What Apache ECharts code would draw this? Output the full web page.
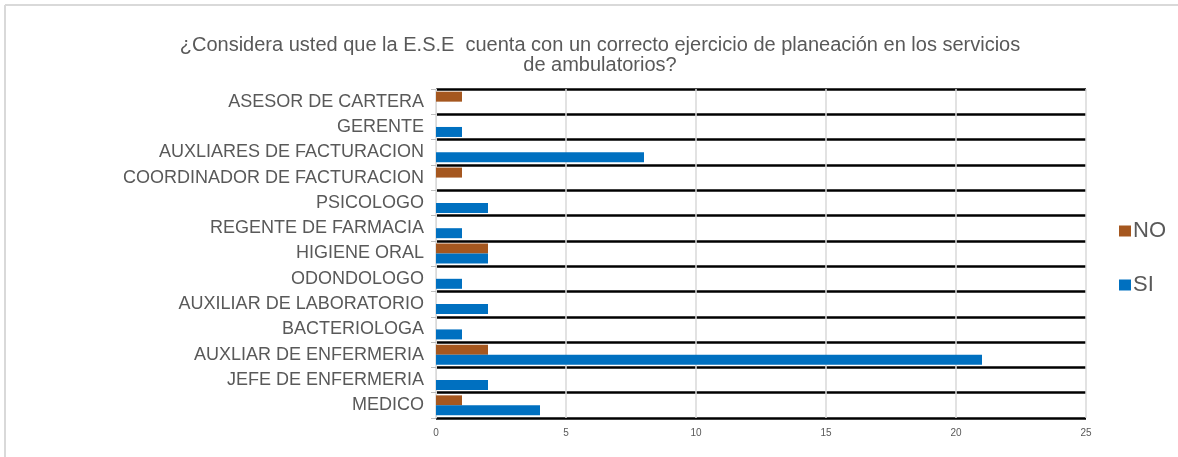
<!DOCTYPE html>
<html>
<head>
<meta charset="utf-8">
<script src="https://cdn.jsdelivr.net/npm/echarts@6/dist/echarts.min.js"></script>
<style>
  html, body { margin: 0; padding: 0; background: #fff; }
  #main { width: 1178px; height: 457px; }
</style>
</head>
<body>
<div id="main"></div>
<script>
// categories from bottom to top
var categories = [
  'MEDICO', 'JEFE DE ENFERMERIA', 'AUXLIAR DE ENFERMERIA', 'BACTERIOLOGA',
  'AUXILIAR DE LABORATORIO', 'ODONDOLOGO', 'HIGIENE ORAL', 'REGENTE DE FARMACIA',
  'PSICOLOGO', 'COORDINADOR DE FACTURACION', 'AUXLIARES DE FACTURACION',
  'GERENTE', 'ASESOR DE CARTERA'
];
var siValues = [4, 2, 21, 1, 2, 1, 2, 1, 2, 0, 8, 1, 0];
var noValues = [1, 0, 2, 0, 0, 0, 2, 0, 0, 1, 0, 0, 1];
var xTicks = { min: 0, max: 25, interval: 5 };

var chart = echarts.init(document.getElementById('main'));

var option = {
  animation: false,
  textStyle: { fontFamily: 'Liberation Sans, Arial, sans-serif' },
  title: {
    text: '¿Considera usted que la E.S.E  cuenta con un correcto ejercicio de planeación en los servicios\nde ambulatorios?',
    left: 595,
    top: 30,
    textAlign: 'center',
    textStyle: {
      fontSize: 20,
      fontWeight: 'normal',
      color: '#595959',
      lineHeight: 20
    }
  },
  legend: {
    data: ['NO', 'SI'],
    orient: 'vertical',
    left: 1114,
    top: 215,
    itemGap: 32,
    itemWidth: 12,
    itemHeight: 11,
    icon: 'rect',
    textStyle: { fontSize: 22, color: '#595959', padding: [0, 0, 0, -3] }
  },
  grid: {
    left: 436,
    right: 92,
    top: 89,
    bottom: 39
  },
  xAxis: {
    type: 'value',
    min: xTicks.min,
    max: xTicks.max,
    interval: xTicks.interval,
    axisLine: { show: false },
    axisTick: { show: false },
    axisLabel: { fontSize: 10, color: '#595959', margin: 10 },
    splitLine: { show: true, lineStyle: { color: '#d9d9d9', width: 1.5 } }
  },
  yAxis: {
    type: 'category',
    data: categories,
    axisLine: { show: true, lineStyle: { color: '#d9d9d9', width: 1 } },
    axisTick: { show: true, length: 5, lineStyle: { color: '#bfbfbf' } },
    axisLabel: { fontSize: 18, color: '#595959', margin: 12 },
    splitLine: { show: true, lineStyle: { color: '#000', width: 2.5 } }
  },
  series: [
    {
      name: 'NO',
      type: 'bar',
      data: noValues,
      barWidth: 10,
      barGap: '0%',
      itemStyle: { color: '#A5571F' }
    },
    {
      name: 'SI',
      type: 'bar',
      data: siValues,
      barWidth: 10,
      barGap: '0%',
      itemStyle: { color: '#0070C0' }
    }
  ],
  graphic: [
    { type: 'line', shape: { x1: 5, y1: 5, x2: 1178, y2: 5 }, style: { stroke: '#d9d9d9', lineWidth: 2 } },
    { type: 'line', shape: { x1: 5, y1: 5, x2: 5, y2: 457 }, style: { stroke: '#d9d9d9', lineWidth: 2 } }
  ]
};

chart.setOption(option);
</script>
</body>
</html>
